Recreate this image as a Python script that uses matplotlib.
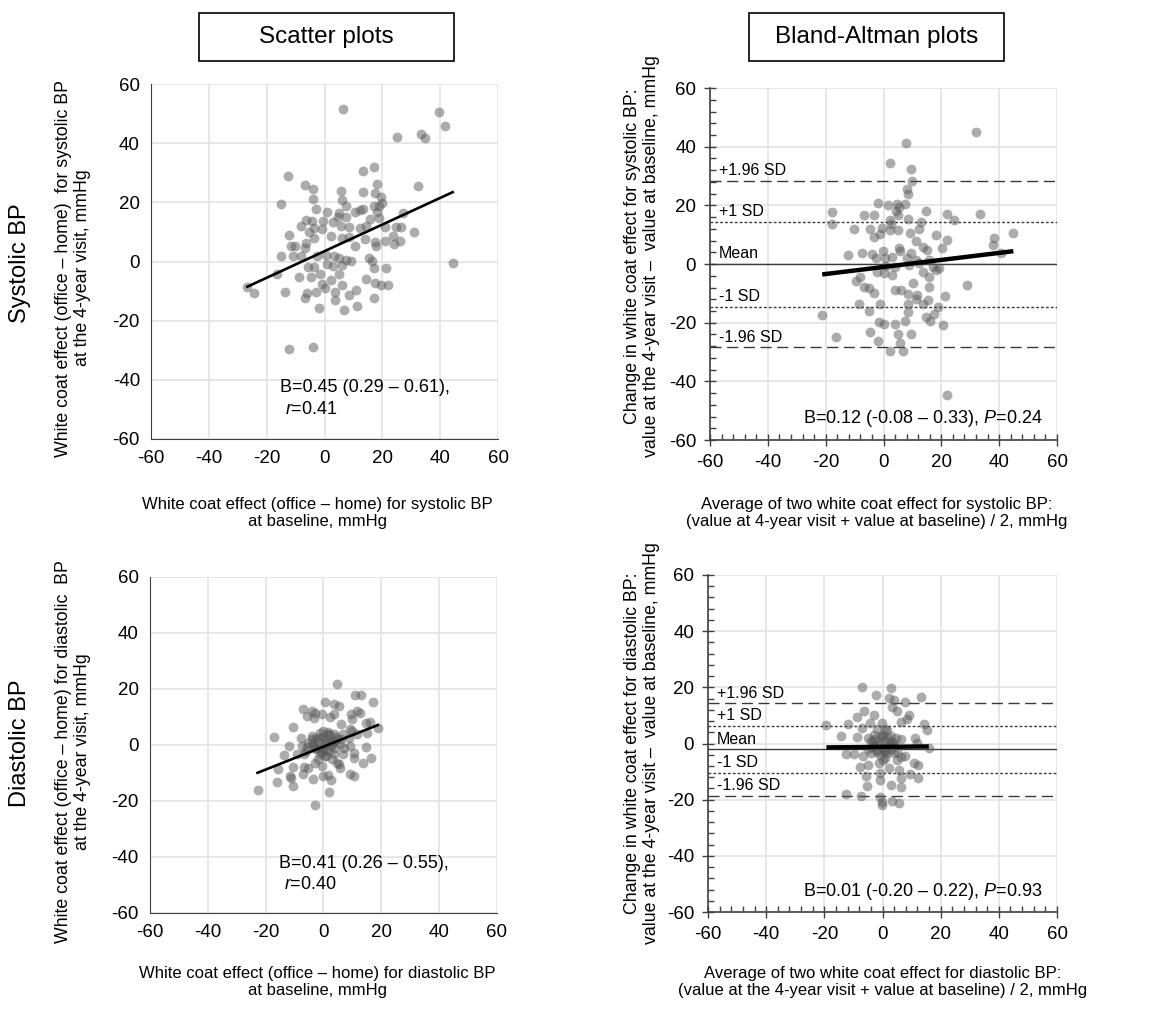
import numpy as np
import matplotlib
matplotlib.use("Agg")
import matplotlib.pyplot as plt
from matplotlib.ticker import MultipleLocator
from matplotlib.patches import Rectangle

plt.rcParams['font.family'] = ['Liberation Sans', 'DejaVu Sans']
plt.rcParams['mathtext.fontset'] = 'custom'
plt.rcParams['mathtext.rm'] = 'Liberation Sans'
plt.rcParams['mathtext.it'] = 'Liberation Sans:italic'
plt.rcParams['axes.unicode_minus'] = False

# systolic scatter: baseline (x) vs 4-year visit (y)
sys_x = [6.5, 39.7, 41.8, 24.9, 33.5, 34.7, 17.1, 13.4, -12.7, -6.7, -4.0, 5.6, 18.1, 13.4, 17.5, 32.4,
         -15.0, -4.0, 6.1, 19.7, 19.8, 17.1, 18.9, 7.4, -3.0, 13.4, 12.1, 10.7, 0.9, 5.1, 18.3, 27.1,
         15.7, 4.8, 7.6, -6.3, -4.5, -0.5, 2.9, 18.7, 5.8, 8.6, 12.3, -8.2, -3.7, -0.9, 14.5, 20.9,
         24.7, 26.6, 30.8, -5.2, -3.5, -12.2, 2.4, 6.2, 8.4, 13.9, 17.5, 20.9, 23.7, 26.2, 24.0, -11.5,
         -10.3, -6.7, -6.3, 17.9, 10.5, -15.0, -10.8, -8.0, -2.5, 0.5, 3.2, 5.1, 7.3, 9.0, 15.3, 16.3,
         44.3, 0.9, 3.1, 6.0, -5.8, -3.6, 17.1, 21.4, -16.5, -8.9, -4.7, -1.4, 5.1, 14.4, -1.0, 2.2,
         6.1, 17.3, 19.4, 21.8, -26.7, -24.3, -13.8, -5.9, -2.9, -6.6, 0.3, 3.5, 8.6, 10.8, 3.6, 17.2,
         -2.0, 6.9, 11.2, -12.4, -4.0]
sys_y = [51.7, 50.6, 45.9, 42.1, 43.1, 41.6, 31.9, 30.6, 28.8, 25.9, 24.6, 24.0, 26.2, 23.5, 23.1, 25.5,
         19.6, 21.1, 20.9, 21.8, 19.7, 18.6, 18.6, 18.9, 17.7, 17.9, 17.4, 16.6, 16.6, 16.4, 16.6, 16.4,
         14.3, 15.2, 15.2, 14.1, 13.8, 13.6, 13.3, 14.7, 12.1, 11.8, 11.3, 12.1, 11.3, 10.9, 12.1, 11.5,
         11.8, 11.5, 10.1, 9.9, 8.0, 8.8, 8.5, 7.9, 8.2, 7.6, 6.5, 7.1, 8.7, 6.9, 5.9, 5.3,
         5.1, 4.5, 6.4, 5.1, 5.1, 1.9, 1.7, 2.0, 1.7, 2.3, 1.9, 1.2, 0.5, 0.3, 1.1, 0.3,
         -0.5, -0.8, -1.5, -1.1, -2.0, -1.7, -2.3, -2.3, -4.2, -5.1, -5.3, -4.2, -4.2, -6.0, -7.7, -6.2,
         -8.0, -7.2, -7.9, -8.1, -8.7, -10.7, -10.4, -10.5, -10.4, -12.2, -9.0, -10.3, -11.3, -9.6, -13.0, -12.4,
         -15.8, -16.4, -15.0, -29.7, -28.8]
sys_slope, sys_icpt = 0.45, 3.5

# systolic Bland-Altman: average (x) vs change (y)
ba_sys_x = [32.1, 7.8, 2.2, 9.4, 10.0, 8.2, 8.5, -1.8, 1.7, 4.5, 5.2, 7.4, -17.9, -17.7, -6.8, -3.2,
            14.6, 21.9, 33.3, 24.3, 2.1, 5.1, 8.6, 13.1, -10.2, -4.8, -0.5, 2.2, 5.1, 2.6, 4.3, 9.1,
            12.3, 18.3, 44.9, 38.1, 38.0, 21.9, -3.2, -1.3, -12.4, -7.3, -4.0, -0.3, 5.4, 5.6, 11.1, 13.7,
            15.1, 20.4, 9.6, 40.5, -2.5, 0.5, 2.8, 8.0, 11.4, 15.9, 0.8, 3.9, 8.9, 12.2, 17.2, 19.2,
            18.3, -2.1, 0.2, 2.8, 13.7, 15.9, -8.3, -9.6, -6.9, -5.0, -3.2, 4.1, 6.2, 10.2, 15.9, 28.9,
            21.3, 8.5, 11.2, 11.6, -8.4, -1.3, 8.4, 13.7, 15.4, -5.1, 8.3, 18.9, 17.4, -21.2, -1.4, 3.9,
            7.4, 16.2, 20.5, 0.3, 14.6, -16.6, -4.8, 5.1, 9.4, -1.8, 5.7, 2.2, 6.8, 21.9]
ba_sys_y = [45.1, 41.1, 34.5, 32.3, 28.4, 25.5, 24.0, 20.8, 20.2, 20.3, 19.5, 20.3, 17.6, 13.5, 16.8, 16.6,
            18.1, 17.2, 17.0, 14.9, 14.9, 16.6, 15.2, 14.3, 12.1, 12.1, 12.3, 11.5, 11.5, 13.8, 18.0, 10.6,
            11.8, 10.0, 10.7, 9.0, 6.6, 8.1, 9.1, 10.4, 3.2, 3.6, 3.4, 4.5, 5.6, 4.3, 7.9, 5.8,
            4.9, 5.5, 3.8, 3.8, 2.2, 1.9, 2.4, 1.9, 1.3, 1.3, -0.6, -1.0, -0.4, 0.2, -1.0, -1.2,
            -2.1, -2.7, -3.2, -3.8, -2.7, -4.4, -4.4, -5.7, -7.7, -8.3, -10.0, -8.7, -8.9, -6.6, -7.7, -7.0,
            -10.9, -10.3, -12.0, -10.6, -13.7, -13.7, -13.7, -13.7, -12.3, -16.0, -16.3, -14.6, -16.9, -17.3, -19.7, -20.3,
            -19.4, -19.4, -20.7, -20.6, -18.1, -24.8, -23.1, -23.9, -23.7, -26.3, -26.8, -29.6, -29.7, -44.7]
ba_sys_mean, ba_sys_sd = 0.0, 14.5
ba_sys_slope, ba_sys_icpt = 0.12, -1.0

# diastolic scatter
dia_x = [4.8, 11.0, 13.0, 17.1, 0.6, 3.8, 5.4, -7.2, -3.8, -2.9, -0.6, -5.8, -3.2, 2.3, 3.5, 9.6,
         11.5, 12.5, 10.0, 6.0, 16.0, 14.8, -10.7, 9.3, 9.7, 18.8, 15.0, 11.5, -17.1, -7.7, -3.8, -2.5,
         -1.2, 1.7, 3.5, 6.9, 8.7, -7.5, -11.8, -5.2, -5.8, -3.5, -1.2, 1.2, 2.9, 4.6, 5.8, 9.2,
         14.8, 10.4, -13.6, -9.2, -6.7, -1.2, 0.6, 3.5, 6.9, 16.5, 10.4, 13.8, -15.6, -10.4, -6.9, -5.2,
         -3.1, -0.6, 4.6, 5.2, 5.8, 9.0, 10.4, -11.5, -10.5, -11.2, -7.2, -3.5, 0.0, 1.5, 2.5, -16.2,
         2.0, -22.8, -3.1, -2.0, 0.0, 1.0, 2.0, -1.0, 3.0, -3.0, 0.0, 2.0, -4.0, 4.0, 1.0, -2.0,
         6.0, 7.0, -6.0, 3.0, 0.0, -1.5, 0.5, 2.5, -2.5, 1.5, -0.5, 3.5, -3.5, 4.5, 0.8]
dia_y = [21.8, 18.0, 18.0, 15.3, 15.3, 14.5, 13.9, 12.9, 12.1, 11.3, 10.9, 10.3, 9.5, 10.0, 11.2, 10.9,
         12.1, 11.5, 9.1, 7.6, 8.3, 7.7, 6.5, 5.8, 5.0, 6.2, 4.2, 3.8, 2.8, 2.6, 3.2, 2.6,
         4.4, 4.7, 3.8, 3.8, 2.4, -0.4, -0.4, 0.8, -0.9, 0.2, -0.9, 0.8, 0.2, 2.0, 0.2, -0.4,
         -0.9, -2.7, -3.7, -3.3, -3.1, -3.3, -3.9, -3.3, -3.3, -4.7, -4.5, -6.6, -8.7, -7.8, -7.8, -8.4,
         -6.3, -7.5, -6.3, -6.9, -8.1, -10.4, -11.0, -11.0, -14.6, -11.9, -10.4, -12.0, -11.0, -10.8, -12.6, -13.4,
         -16.7, -16.1, -21.4, 1.0, -1.0, 2.0, -2.0, -2.0, 1.0, -1.0, 3.0, 4.0, 2.0, -1.0, -4.0, -5.0,
         2.0, -1.0, -2.0, -5.0, 5.0, 2.5, 0.5, -0.5, -1.5, 3.5, -2.5, 1.5, 0.0, 3.0, -1.8]
dia_slope, dia_icpt = 0.41, -0.6

# diastolic Bland-Altman
ba_dia_x = [-7.2, 2.8, -2.4, 13.1, 2.2, 3.9, 3.3, 7.9, -6.2, 5.0, -8.7, -3.0, 9.1, 8.3, 6.2, -4.4,
            -11.8, -0.1, -19.3, 14.2, 15.4, -7.0, -1.8, 1.6, -14.4, -8.9, -5.0, -0.1, 3.0, 6.5, 11.3, 11.9,
            -3.2, 3.3, 15.9, -12.5, -9.9, -6.6, -4.1, -1.8, 1.0, 3.9, 6.2, 7.9, -4.9, -1.3, 5.0, 10.8,
            12.3, -7.8, 2.2, 5.6, -5.8, -0.7, -0.9, 6.2, 9.4, 12.3, -5.5, 2.8, 6.5, -12.4, -7.3, -0.9,
            -0.1, 3.3, 5.8, -0.3, -3.0, -1.0, 0.0, 1.0, 2.0, -2.0, 0.0, 3.0, -4.0, 4.0, 1.0, -1.0,
            2.0, -3.0, 0.0, 5.0, -5.0, 1.0, -1.5, 0.5, 2.5, -2.5, 1.5, -0.5, 3.5, 0.8, -3.5, 4.5]
ba_dia_y = [20.0, 19.9, 17.3, 16.7, 16.1, 15.5, 13.1, 14.9, 11.7, 11.6, 9.6, 10.2, 10.2, 8.6, 7.8, 7.4,
            6.8, 7.2, 6.6, 6.9, 4.8, 5.4, 5.0, 4.8, 2.7, 2.4, 2.1, 2.4, 2.7, 1.7, 2.1, 0.1,
            0.9, 0.7, -1.7, -3.9, -3.7, -4.3, -3.3, -2.3, -2.6, -3.5, -4.7, -4.5, -7.6, -7.1, -5.9, -6.8,
            -7.6, -8.5, -8.8, -9.4, -11.4, -10.6, -13.0, -12.4, -11.0, -12.2, -15.0, -14.8, -15.6, -18.1, -18.7, -19.2,
            -20.7, -20.4, -21.1, -21.9, -1.0, 0.0, -2.0, 1.0, -1.0, -3.0, 3.0, -2.0, 1.0, 0.0, -5.0, -4.0,
            2.0, 3.0, -6.0, -3.0, -2.0, 5.0, -0.5, -1.5, 0.5, 1.5, -3.5, 2.5, -0.8, -2.6, -1.2, 1.8]
ba_dia_mean, ba_dia_sd = -2.1, 8.4
ba_dia_slope, ba_dia_icpt = 0.01, -1.2

ticks = [-60, -40, -20, 0, 20, 40, 60]
grid_col = '#e3e3e3'
axis_col = '#404040'
dot_col = '#5a5a5a'

fig = plt.figure(figsize=(11.59, 10.31), dpi=100)

ax_tl = fig.add_axes([0.1303, 0.5742, 0.2994, 0.3443])
ax_tr = fig.add_axes([0.6126, 0.5732, 0.2994, 0.3414])
ax_bl = fig.add_axes([0.1294, 0.1145, 0.2994, 0.3259])
ax_br = fig.add_axes([0.6109, 0.1154, 0.3011, 0.3269])


def base_axes(ax):
    ax.set_xlim(-60, 60)
    ax.set_ylim(-60, 60)
    ax.set_xticks(ticks)
    ax.set_yticks(ticks)
    ax.grid(True, color=grid_col, linewidth=1.2)
    ax.set_axisbelow(True)
    ax.spines['top'].set_visible(False)
    ax.spines['right'].set_visible(False)
    ax.spines['left'].set_color(axis_col)
    ax.spines['bottom'].set_color(axis_col)
    ax.tick_params(labelsize=13.5, labelcolor='black')


def scatter_panel(ax, x, y, slope, icpt, txt1, txt2):
    base_axes(ax)
    ax.tick_params(length=0, pad=8)
    ax.scatter(x, y, s=50, color=dot_col, alpha=0.5, linewidths=0, zorder=3)
    xs = np.array([min(x), max(x)])
    ax.plot(xs, slope * xs + icpt, color='black', linewidth=1.9, zorder=4)
    ax.text(-15.5, -42.5, txt1, fontsize=13, va='center', ha='left')
    ax.text(-15.5, -50, txt2, fontsize=13, va='center', ha='left')


def ba_panel(ax, x, y, mean, sd, slope, icpt, txt):
    base_axes(ax)
    ax.xaxis.set_minor_locator(MultipleLocator(4))
    ax.yaxis.set_minor_locator(MultipleLocator(4))
    ax.tick_params(which='major', direction='inout', length=8, width=1, color=axis_col, pad=6)
    ax.tick_params(which='minor', direction='in', length=4, width=1, color=axis_col)
    ax.spines['left'].set_linewidth(1.2)
    ax.spines['bottom'].set_linewidth(1.2)
    ax.scatter(x, y, s=50, color=dot_col, alpha=0.5, linewidths=0, zorder=3)
    lines = [(mean + 1.96 * sd, (0, (8, 4)), '+1.96 SD'),
             (mean + sd, (0, (2, 1.5)), '+1 SD'),
             (mean, '-', 'Mean'),
             (mean - sd, (0, (2, 1.5)), '-1 SD'),
             (mean - 1.96 * sd, (0, (8, 4)), '-1.96 SD')]
    for val, ls, lab in lines:
        ax.axhline(val, color='#3a3a3a', linestyle=ls, linewidth=1.0, zorder=2)
        ax.text(-57, val + 0.9, lab, fontsize=11.5, ha='left', va='bottom')
    xs = np.array([min(x), max(x)])
    ax.plot(xs, slope * xs + icpt, color='black', linewidth=3.2, zorder=4, solid_capstyle='butt')
    ax.text(55, -52.8, txt, fontsize=13, ha='right', va='center')


scatter_panel(ax_tl, sys_x, sys_y, sys_slope, sys_icpt,
              'B=0.45 (0.29 – 0.61),', ' $r$=0.41')
scatter_panel(ax_bl, dia_x, dia_y, dia_slope, dia_icpt,
              'B=0.41 (0.26 – 0.55),', ' $r$=0.40')
ba_panel(ax_tr, ba_sys_x, ba_sys_y, ba_sys_mean, ba_sys_sd, ba_sys_slope, ba_sys_icpt,
         'B=0.12 (-0.08 – 0.33), $P$=0.24')
ba_panel(ax_br, ba_dia_x, ba_dia_y, ba_dia_mean, ba_dia_sd, ba_dia_slope, ba_dia_icpt,
         'B=0.01 (-0.20 – 0.22), $P$=0.93')


def fx(px):
    return px / 1159


def fy(py):
    return 1 - py / 1031


# column headers in fixed boxes
for x0, x1, title in [(199, 454, 'Scatter plots'), (749, 1004, 'Bland-Altman plots')]:
    fig.patches.append(Rectangle((fx(x0), fy(61)), fx(x1) - fx(x0), fy(13) - fy(61),
                                 transform=fig.transFigure, facecolor='white',
                                 edgecolor='black', linewidth=1.2))
    fig.text(fx((x0 + x1) / 2), fy(37), title, fontsize=17.5, ha='center', va='center')

# row labels
fig.text(fx(20), fy(263), 'Systolic BP', fontsize=17, rotation=90, ha='center', va='center')
fig.text(fx(20), fy(743), 'Diastolic BP', fontsize=17, rotation=90, ha='center', va='center')

ylab_fs = 12.8
xlab_fs = 12
# y labels
fig.text(fx(73), fy(268), 'White coat effect (office – home)  for systolic BP\nat the 4-year visit, mmHg',
         fontsize=ylab_fs, rotation=90, ha='center', va='center', multialignment='center')
fig.text(fx(73), fy(752), 'White coat effect (office – home) for diastolic  BP\nat the 4-year visit, mmHg',
         fontsize=ylab_fs, rotation=90, ha='center', va='center', multialignment='center')
fig.text(fx(642), fy(256), 'Change in white coat effect for systolic BP:\nvalue at the 4-year visit –  value at baseline, mmHg',
         fontsize=ylab_fs, rotation=90, ha='center', va='center', multialignment='center')
fig.text(fx(642), fy(743), 'Change in white coat effect for diastolic BP:\nvalue at the 4-year visit –  value at baseline, mmHg',
         fontsize=ylab_fs, rotation=90, ha='center', va='center', multialignment='center')

# x labels
fig.text(fx(317), fy(513), 'White coat effect (office – home) for systolic BP\nat baseline, mmHg',
         fontsize=xlab_fs, ha='center', va='center', multialignment='center')
fig.text(fx(877), fy(513), 'Average of two white coat effect for systolic BP:\n(value at 4-year visit + value at baseline) / 2, mmHg',
         fontsize=xlab_fs, ha='center', va='center', multialignment='center')
fig.text(fx(317), fy(982), 'White coat effect (office – home) for diastolic BP\nat baseline, mmHg',
         fontsize=xlab_fs, ha='center', va='center', multialignment='center')
fig.text(fx(883), fy(982), 'Average of two white coat effect for diastolic BP:\n(value at the 4-year visit + value at baseline) / 2, mmHg',
         fontsize=xlab_fs, ha='center', va='center', multialignment='center')

fig.savefig('out.png', dpi=100, facecolor='white')
